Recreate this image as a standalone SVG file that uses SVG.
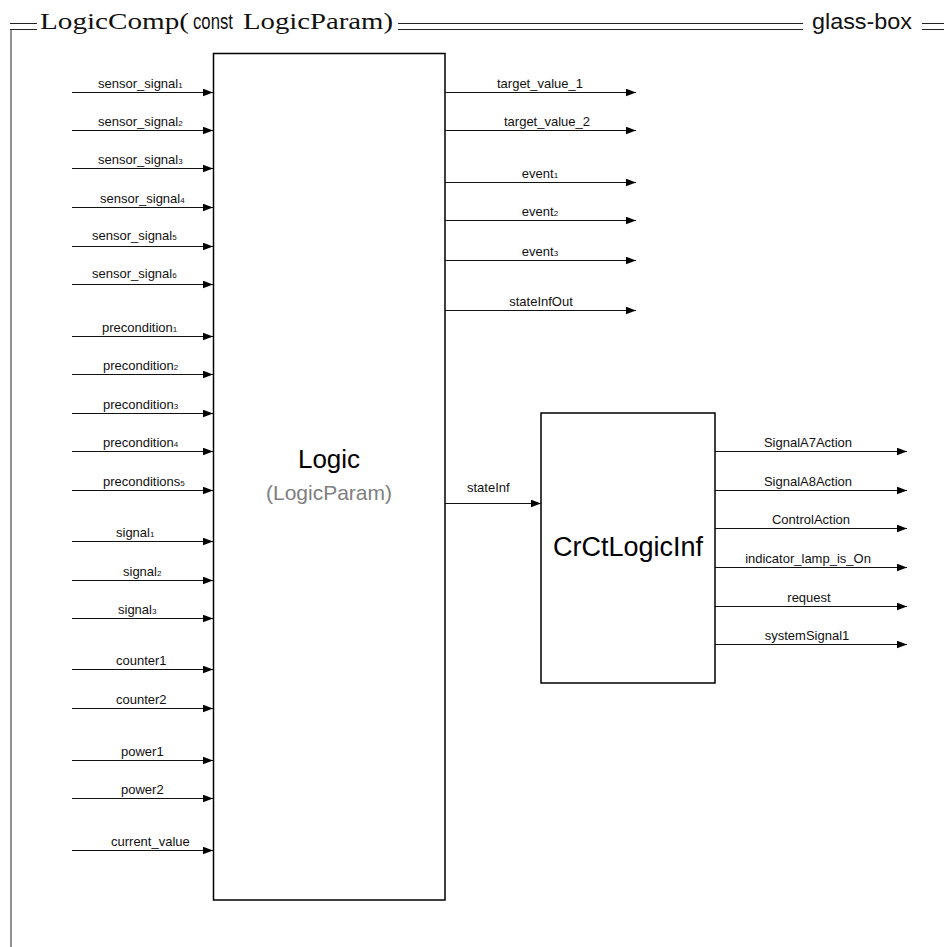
<svg xmlns="http://www.w3.org/2000/svg" width="944" height="947" viewBox="0 0 944 947">
<defs>
<marker id="arr" markerUnits="userSpaceOnUse" markerWidth="11" markerHeight="8" refX="10.5" refY="4" orient="auto">
<path d="M0,0 L10.5,4 L0,8 z" fill="#000"/>
</marker>
<style>
.frame{stroke:#222;stroke-width:1;fill:none}
.box{stroke:#000;stroke-width:1.5;fill:#fff}
.conn{stroke:#111;stroke-width:1;fill:none;marker-end:url(#arr)}
.lbl{font-family:"Liberation Sans",Arial,sans-serif;font-size:13px;fill:#111}
.lblc{font-family:"Liberation Sans",Arial,sans-serif;font-size:13px;fill:#111;text-anchor:middle}
.sub{font-size:8px}
.serif{font-family:"Liberation Serif","Times New Roman",serif;font-size:24px;fill:#111}
.sans{font-family:"Liberation Sans",Arial,sans-serif;font-size:22px;fill:#111}
</style>
</defs>
<rect width="944" height="947" fill="#fff"/>
<g id="frame">
<path class="frame" d="M10,23.5 H37 M10,29.5 H37 M11,29.5 V947 M398,23.5 H803 M398,29.5 H803 M922,23.5 H944 M922,29.5 H944"/>
<text x="40" y="29" class="serif" textLength="149" lengthAdjust="spacingAndGlyphs">LogicComp(</text>
<text x="193" y="29" class="sans" textLength="40" lengthAdjust="spacingAndGlyphs">const</text>
<text x="243" y="29" class="serif" textLength="150" lengthAdjust="spacingAndGlyphs">LogicParam)</text>
<text x="812" y="29" class="sans" textLength="100" lengthAdjust="spacingAndGlyphs">glass-box</text>
</g>
<g id="connectors">
<path class="conn" d="M72,92.5 H213"/>
<path class="conn" d="M72,130.5 H213"/>
<path class="conn" d="M72,168.5 H213"/>
<path class="conn" d="M72,207.5 H213"/>
<path class="conn" d="M72,246.5 H213"/>
<path class="conn" d="M72,284.5 H213"/>
<path class="conn" d="M72,336.5 H213"/>
<path class="conn" d="M72,374.5 H213"/>
<path class="conn" d="M72,413.5 H213"/>
<path class="conn" d="M72,451.5 H213"/>
<path class="conn" d="M72,490.5 H213"/>
<path class="conn" d="M72,541.5 H213"/>
<path class="conn" d="M72,580.5 H213"/>
<path class="conn" d="M72,618.5 H213"/>
<path class="conn" d="M72,669.5 H213"/>
<path class="conn" d="M72,708.5 H213"/>
<path class="conn" d="M72,760.5 H213"/>
<path class="conn" d="M72,798.5 H213"/>
<path class="conn" d="M72,850.5 H213"/>
<path class="conn" d="M445,92.5 H636"/>
<path class="conn" d="M445,130.5 H636"/>
<path class="conn" d="M445,182.5 H636"/>
<path class="conn" d="M445,220.5 H636"/>
<path class="conn" d="M445,260.5 H636"/>
<path class="conn" d="M445,310.5 H636"/>
<path class="conn" d="M445,503.5 H541"/>
<path class="conn" d="M715,451.5 H907"/>
<path class="conn" d="M715,490.5 H907"/>
<path class="conn" d="M715,528.5 H907"/>
<path class="conn" d="M715,567.5 H907"/>
<path class="conn" d="M715,606.5 H907"/>
<path class="conn" d="M715,644.5 H907"/>
<text class="lbl" x="98" y="87.5">sensor_signal<tspan class="sub">1</tspan></text>
<text class="lbl" x="98" y="125.5">sensor_signal<tspan class="sub">2</tspan></text>
<text class="lbl" x="98" y="163.5">sensor_signal<tspan class="sub">3</tspan></text>
<text class="lbl" x="100" y="202.5">sensor_signal<tspan class="sub">4</tspan></text>
<text class="lbl" x="92" y="239.5">sensor_signal<tspan class="sub">5</tspan></text>
<text class="lbl" x="92" y="277.5">sensor_signal<tspan class="sub">6</tspan></text>
<text class="lbl" x="102" y="331.5">precondition<tspan class="sub">1</tspan></text>
<text class="lbl" x="103" y="369.5">precondition<tspan class="sub">2</tspan></text>
<text class="lbl" x="103" y="408.5">precondition<tspan class="sub">3</tspan></text>
<text class="lbl" x="103" y="446.5">precondition<tspan class="sub">4</tspan></text>
<text class="lbl" x="103" y="485.5">preconditions<tspan class="sub">5</tspan></text>
<text class="lbl" x="116" y="536.5">signal<tspan class="sub">1</tspan></text>
<text class="lbl" x="123" y="575.5">signal<tspan class="sub">2</tspan></text>
<text class="lbl" x="118" y="613.5">signal<tspan class="sub">3</tspan></text>
<text class="lbl" x="116" y="664.5">counter1</text>
<text class="lbl" x="116" y="703.5">counter2</text>
<text class="lbl" x="121" y="755.5">power1</text>
<text class="lbl" x="121" y="793.5">power2</text>
<text class="lbl" x="111" y="845.5">current_value</text>
<text class="lblc" x="540" y="87.5">target_value_1</text>
<text class="lblc" x="547" y="125.5">target_value_2</text>
<text class="lblc" x="540" y="177.5">event<tspan class="sub">1</tspan></text>
<text class="lblc" x="540" y="215.5">event<tspan class="sub">2</tspan></text>
<text class="lblc" x="540" y="255.5">event<tspan class="sub">3</tspan></text>
<text class="lblc" x="541" y="305.5">stateInfOut</text>
<text class="lbl" x="467" y="492">stateInf</text>
<text class="lblc" x="808" y="446.5">SignalA7Action</text>
<text class="lblc" x="808" y="485.5">SignalA8Action</text>
<text class="lblc" x="811" y="523.5">ControlAction</text>
<text class="lblc" x="808" y="562.5">indicator_lamp_is_On</text>
<text class="lblc" x="809" y="601.5">request</text>
<text class="lblc" x="807" y="639.5">systemSignal1</text>
</g>
<g id="logic">
<rect class="box" x="213.5" y="53.5" width="231.5" height="846.5"/>
<text x="329" y="468" font-family="Liberation Sans, Arial, sans-serif" font-size="26" fill="#000" text-anchor="middle">Logic</text>
<text x="329" y="500" font-family="Liberation Sans, Arial, sans-serif" font-size="21" fill="#808080" text-anchor="middle">(LogicParam)</text>
</g>
<g id="crctlogicinf">
<rect class="box" x="541" y="413" width="174" height="270"/>
<text x="628" y="556" font-family="Liberation Sans, Arial, sans-serif" font-size="27" fill="#000" text-anchor="middle">CrCtLogicInf</text>
</g>
</svg>
